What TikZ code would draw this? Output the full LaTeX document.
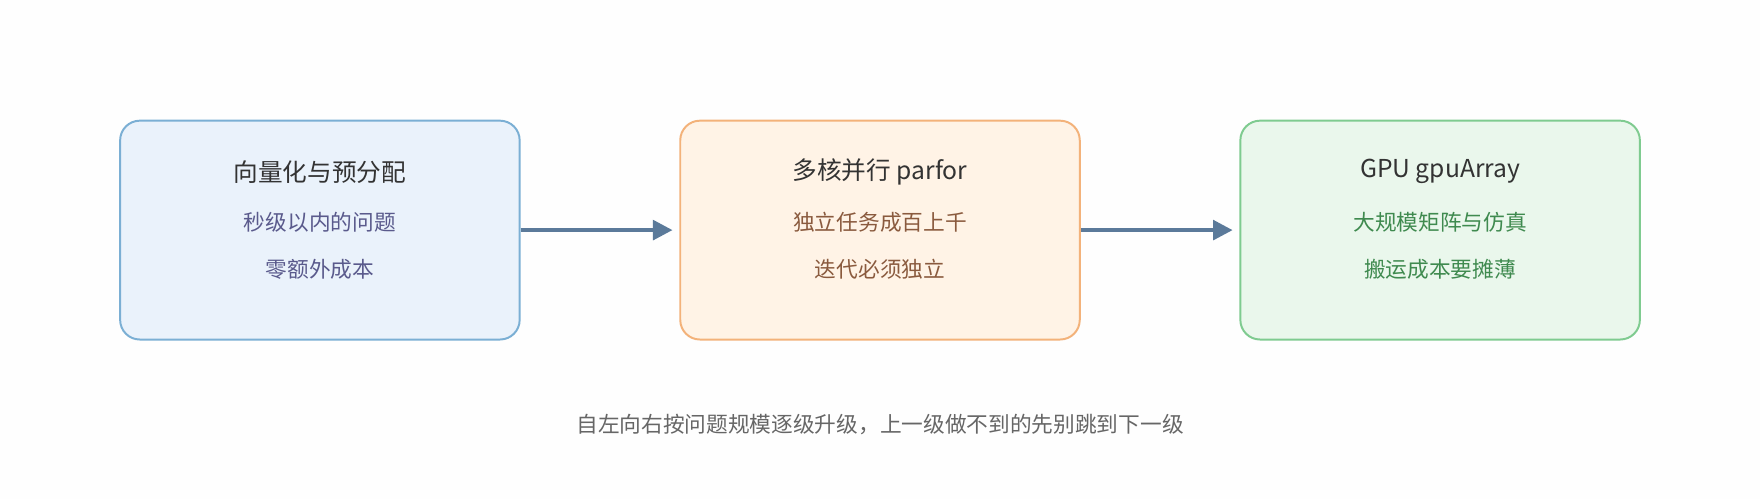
\documentclass[tikz,border=0pt]{standalone}
\usepackage{fontspec}
\setmainfont{Noto Sans CJK SC}
\usetikzlibrary{arrows.meta}
\definecolor{b1f}{HTML}{EAF2FB}\definecolor{b1s}{HTML}{7BAFD4}\definecolor{b1t}{HTML}{5A5A8C}
\definecolor{b2f}{HTML}{FFF3E6}\definecolor{b2s}{HTML}{F3B27A}\definecolor{b2t}{HTML}{8A5A3E}
\definecolor{b3f}{HTML}{EAF7EC}\definecolor{b3s}{HTML}{7FCB90}\definecolor{b3t}{HTML}{3F8A4F}
\definecolor{arr}{HTML}{5B7A9A}\definecolor{ttl}{HTML}{333333}\definecolor{cap}{HTML}{666666}
\begin{document}
\begin{tikzpicture}[x=0.02cm,y=-0.02cm,
 box/.style={draw,line width=1pt,rounded corners=0.35cm,minimum width=7.12cm,minimum height=3.9cm},
 ttl/.style={text=ttl,font=\fontsize{12.5}{14}\selectfont},
 sub/.style={font=\fontsize{11}{13}\selectfont},
 ar/.style={draw=arr,line width=2pt,-{Triangle[length=0.35cm,width=0.35cm]}}]
\fill[white!99!gray] (0,0) rectangle (1568,445);
\node[box,fill=b1f,draw=b1s] (a) at (285,205) {};
\node[box,fill=b2f,draw=b2s] (b) at (784,205) {};
\node[box,fill=b3f,draw=b3s] (c) at (1283,205) {};
\node[ttl] (a1) at (285,153) {向量化与预分配};
\node[sub,text=b1t] (a2) at (285,198) {秒级以内的问题};
\node[sub,text=b1t] (a3) at (285,240) {零额外成本};
\node[ttl] (b1) at (784,153) {多核并行 parfor};
\node[sub,text=b2t] (b2) at (784,198) {独立任务成百上千};
\node[sub,text=b2t] (b3) at (784,240) {迭代必须独立};
\node[ttl] (c1) at (1283,153) {GPU gpuArray};
\node[sub,text=b3t] (c2) at (1283,198) {大规模矩阵与仿真};
\node[sub,text=b3t] (c3) at (1283,240) {搬运成本要摊薄};
\draw[ar] (a.east) -- ([xshift=-0.12cm]b.west);
\draw[ar] (b.east) -- ([xshift=-0.12cm]c.west);
\node[sub,text=cap] (cap) at (784,378) {自左向右按问题规模逐级升级，上一级做不到的先别跳到下一级};
\end{tikzpicture}
\end{document}
